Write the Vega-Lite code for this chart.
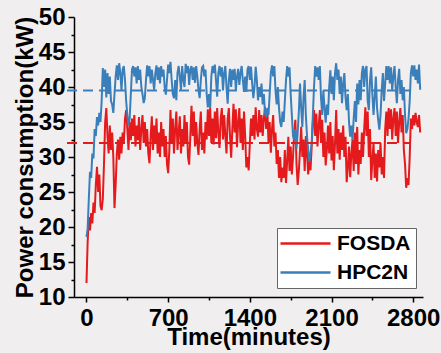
{
"$schema":"https://vega.github.io/schema/vega-lite/v6.json",
"autosize":{"type":"none"},
"width":349,"height":280,
"padding":{"left":74,"top":17,"right":18,"bottom":56},
"background":"#f0eeef",
"config":{"view":{"stroke":null},"font":"Liberation Sans"},
"datasets":{
"F":[{"t":0,"v":12},{"t":10,"v":17.9},{"t":20,"v":21.4},{"t":30,"v":19.5},{"t":40,"v":22},{"t":50,"v":20.5},{"t":60,"v":23.5},{"t":70,"v":22},{"t":80,"v":26},{"t":90,"v":28.6},
{"t":100,"v":25},{"t":110,"v":27.5},{"t":120,"v":23},{"t":130,"v":22.4},{"t":140,"v":24},{"t":150,"v":29},{"t":160,"v":35},{"t":170,"v":37},{"t":180,"v":33},{"t":190,"v":30.5},
{"t":200,"v":34.5},{"t":210,"v":31},{"t":220,"v":33.5},{"t":230,"v":30},{"t":240,"v":22.7},{"t":250,"v":26},{"t":260,"v":30.5},{"t":270,"v":32.5},{"t":280,"v":29.6},{"t":290,"v":32.9},
{"t":300,"v":30.5},{"t":310,"v":33.5},{"t":320,"v":32},{"t":330,"v":35.5},{"t":340,"v":36.7},{"t":350,"v":34},{"t":360,"v":31},{"t":370,"v":35},{"t":380,"v":32.4},{"t":390,"v":35.5},
{"t":400,"v":33},{"t":410,"v":36},{"t":420,"v":31.5},{"t":430,"v":34.5},{"t":440,"v":32.4},{"t":450,"v":35.7},{"t":460,"v":31},{"t":470,"v":34},{"t":480,"v":36},{"t":490,"v":32},
{"t":500,"v":35},{"t":510,"v":31.5},{"t":520,"v":34},{"t":530,"v":30.5},{"t":540,"v":29.1},{"t":550,"v":33},{"t":560,"v":35.8},{"t":570,"v":31},{"t":580,"v":34.5},{"t":590,"v":32},
{"t":600,"v":35.5},{"t":610,"v":30.5},{"t":620,"v":33.5},{"t":630,"v":30},{"t":640,"v":35},{"t":650,"v":31.5},{"t":660,"v":34},{"t":670,"v":30},{"t":680,"v":33},{"t":690,"v":29},
{"t":700,"v":27.7},{"t":710,"v":31},{"t":720,"v":36.7},{"t":730,"v":32},{"t":740,"v":35.5},{"t":750,"v":30.5},{"t":760,"v":34},{"t":770,"v":36.5},{"t":780,"v":31},{"t":790,"v":33.5},
{"t":800,"v":35.8},{"t":810,"v":30.5},{"t":820,"v":34},{"t":830,"v":31.5},{"t":840,"v":36},{"t":850,"v":32},{"t":860,"v":35},{"t":870,"v":30},{"t":880,"v":28.9},{"t":890,"v":33},
{"t":900,"v":37.3},{"t":910,"v":33},{"t":920,"v":36.5},{"t":930,"v":31.5},{"t":940,"v":35},{"t":950,"v":32},{"t":960,"v":30.3},{"t":970,"v":34},{"t":980,"v":36.5},{"t":990,"v":31},
{"t":1000,"v":33.5},{"t":1010,"v":30.5},{"t":1020,"v":35},{"t":1030,"v":32.5},{"t":1040,"v":36.8},{"t":1050,"v":33},{"t":1060,"v":37},{"t":1070,"v":32},{"t":1080,"v":35.5},{"t":1090,"v":31.8},
{"t":1100,"v":36.5},{"t":1110,"v":32.7},{"t":1120,"v":37},{"t":1130,"v":33.5},{"t":1140,"v":31.3},{"t":1150,"v":35.5},{"t":1160,"v":37},{"t":1170,"v":32.5},{"t":1180,"v":36},{"t":1190,"v":33},
{"t":1200,"v":30.5},{"t":1210,"v":35.5},{"t":1220,"v":37},{"t":1230,"v":33},{"t":1240,"v":29.9},{"t":1250,"v":34},{"t":1260,"v":37.6},{"t":1270,"v":33.5},{"t":1280,"v":36.8},{"t":1290,"v":31.4},
{"t":1300,"v":35},{"t":1310,"v":37},{"t":1320,"v":32},{"t":1330,"v":35.5},{"t":1340,"v":31},{"t":1350,"v":36.5},{"t":1360,"v":33},{"t":1370,"v":28.5},{"t":1380,"v":30},{"t":1390,"v":28.1},
{"t":1400,"v":32},{"t":1410,"v":35.5},{"t":1420,"v":33},{"t":1430,"v":36},{"t":1440,"v":32.5},{"t":1450,"v":37.1},{"t":1460,"v":34},{"t":1470,"v":32.9},{"t":1480,"v":36.7},{"t":1490,"v":33.5},
{"t":1500,"v":36},{"t":1510,"v":33},{"t":1520,"v":35.5},{"t":1530,"v":37.1},{"t":1540,"v":34},{"t":1550,"v":36.7},{"t":1560,"v":32},{"t":1570,"v":35},{"t":1580,"v":30.6},{"t":1590,"v":34},
{"t":1600,"v":36},{"t":1610,"v":31.5},{"t":1620,"v":33.5},{"t":1630,"v":29},{"t":1640,"v":31},{"t":1650,"v":27},{"t":1660,"v":30},{"t":1670,"v":26.4},{"t":1680,"v":28.5},{"t":1690,"v":27},
{"t":1700,"v":31},{"t":1710,"v":26.3},{"t":1720,"v":29.5},{"t":1730,"v":32.9},{"t":1740,"v":28},{"t":1750,"v":31.5},{"t":1760,"v":27.5},{"t":1770,"v":30},{"t":1780,"v":33.5},{"t":1790,"v":35.3},
{"t":1800,"v":29},{"t":1810,"v":26},{"t":1820,"v":28},{"t":1830,"v":31},{"t":1840,"v":34.3},{"t":1850,"v":30},{"t":1860,"v":32.5},{"t":1870,"v":28},{"t":1880,"v":33},{"t":1890,"v":30.5},
{"t":1900,"v":27.5},{"t":1910,"v":30},{"t":1920,"v":28.1},{"t":1930,"v":31.5},{"t":1940,"v":35},{"t":1950,"v":36.7},{"t":1960,"v":33},{"t":1970,"v":36.2},{"t":1980,"v":31.5},{"t":1990,"v":34.5},
{"t":2000,"v":36.7},{"t":2010,"v":32},{"t":2020,"v":35.3},{"t":2030,"v":30},{"t":2040,"v":33.5},{"t":2050,"v":28.8},{"t":2060,"v":31},{"t":2070,"v":34.5},{"t":2080,"v":30.5},{"t":2090,"v":35},
{"t":2100,"v":29.5},{"t":2110,"v":33},{"t":2120,"v":28.1},{"t":2130,"v":32},{"t":2140,"v":36.7},{"t":2150,"v":30.5},{"t":2160,"v":34},{"t":2170,"v":29.6},{"t":2180,"v":33.5},{"t":2190,"v":31},
{"t":2200,"v":34.5},{"t":2210,"v":30},{"t":2220,"v":32.9},{"t":2230,"v":26.4},{"t":2240,"v":28.5},{"t":2250,"v":31.5},{"t":2260,"v":27.1},{"t":2270,"v":30.5},{"t":2280,"v":32.5},{"t":2290,"v":28},
{"t":2300,"v":33.5},{"t":2310,"v":29},{"t":2320,"v":34.3},{"t":2330,"v":27.5},{"t":2340,"v":31},{"t":2350,"v":29},{"t":2360,"v":33.5},{"t":2370,"v":30},{"t":2380,"v":34},{"t":2390,"v":37.1},
{"t":2400,"v":33},{"t":2410,"v":36.5},{"t":2420,"v":30},{"t":2430,"v":34},{"t":2440,"v":26.7},{"t":2450,"v":29.5},{"t":2460,"v":32},{"t":2470,"v":27},{"t":2480,"v":30.5},{"t":2490,"v":26.5},
{"t":2500,"v":31},{"t":2510,"v":28.5},{"t":2520,"v":32},{"t":2530,"v":27.5},{"t":2540,"v":30},{"t":2550,"v":27},{"t":2560,"v":34},{"t":2570,"v":36.5},{"t":2580,"v":33},{"t":2590,"v":37},
{"t":2600,"v":34},{"t":2610,"v":36.8},{"t":2620,"v":32.5},{"t":2630,"v":35.5},{"t":2640,"v":37},{"t":2650,"v":33},{"t":2660,"v":36.5},{"t":2670,"v":32},{"t":2680,"v":35},{"t":2690,"v":37},
{"t":2700,"v":33.5},{"t":2710,"v":36},{"t":2720,"v":31},{"t":2730,"v":29},{"t":2740,"v":25.6},{"t":2750,"v":27},{"t":2760,"v":26},{"t":2770,"v":30},{"t":2780,"v":35.5},{"t":2790,"v":34},
{"t":2800,"v":36},{"t":2810,"v":34.5},{"t":2820,"v":36.3},{"t":2830,"v":35},{"t":2840,"v":34.3},{"t":2850,"v":36},{"t":2860,"v":33.5}],
"H":[{"t":0,"v":18.6},{"t":10,"v":19.8},{"t":20,"v":24},{"t":30,"v":27.9},{"t":40,"v":27},{"t":50,"v":30.5},{"t":60,"v":29.8},{"t":70,"v":34},{"t":80,"v":33},{"t":90,"v":35.7},
{"t":100,"v":34.5},{"t":110,"v":36.3},{"t":120,"v":35},{"t":130,"v":38},{"t":140,"v":42.7},{"t":150,"v":40},{"t":160,"v":42.5},{"t":170,"v":38.5},{"t":180,"v":42},{"t":190,"v":39},
{"t":200,"v":41.5},{"t":210,"v":38},{"t":220,"v":37.5},{"t":230,"v":36.3},{"t":240,"v":39},{"t":250,"v":41.5},{"t":260,"v":43.1},{"t":270,"v":41},{"t":280,"v":43.4},{"t":290,"v":42},
{"t":300,"v":39.5},{"t":310,"v":42.5},{"t":320,"v":43},{"t":330,"v":41},{"t":340,"v":38},{"t":350,"v":36},{"t":360,"v":34.5},{"t":370,"v":35.5},{"t":380,"v":39},{"t":390,"v":42.5},
{"t":400,"v":43},{"t":410,"v":41.5},{"t":420,"v":42.8},{"t":430,"v":40.5},{"t":440,"v":43},{"t":450,"v":41},{"t":460,"v":42.5},{"t":470,"v":40},{"t":480,"v":39},{"t":490,"v":37.7},
{"t":500,"v":38.4},{"t":510,"v":41},{"t":520,"v":43.1},{"t":530,"v":41.5},{"t":540,"v":43},{"t":550,"v":40.5},{"t":560,"v":42.5},{"t":570,"v":41},{"t":580,"v":39.6},{"t":590,"v":42},
{"t":600,"v":43.1},{"t":610,"v":41},{"t":620,"v":42.8},{"t":630,"v":40.5},{"t":640,"v":43},{"t":650,"v":41.5},{"t":660,"v":42.5},{"t":670,"v":40},{"t":680,"v":38.9},{"t":690,"v":41},
{"t":700,"v":43.2},{"t":710,"v":42},{"t":720,"v":43.6},{"t":730,"v":41},{"t":740,"v":39},{"t":750,"v":38.4},{"t":760,"v":41},{"t":770,"v":38.1},{"t":780,"v":42},{"t":790,"v":43},
{"t":800,"v":41.5},{"t":810,"v":39.6},{"t":820,"v":43},{"t":830,"v":41},{"t":840,"v":40},{"t":850,"v":43.3},{"t":860,"v":42},{"t":870,"v":43},{"t":880,"v":40.3},{"t":890,"v":42.5},
{"t":900,"v":43},{"t":910,"v":41},{"t":920,"v":42.8},{"t":930,"v":40.6},{"t":940,"v":43},{"t":950,"v":41.5},{"t":960,"v":39.5},{"t":970,"v":38.4},{"t":980,"v":41},{"t":990,"v":42.8},
{"t":1000,"v":43},{"t":1010,"v":41.5},{"t":1020,"v":42.5},{"t":1030,"v":39},{"t":1040,"v":37.1},{"t":1050,"v":39},{"t":1060,"v":37},{"t":1070,"v":41.5},{"t":1080,"v":43},{"t":1090,"v":42},
{"t":1100,"v":43.2},{"t":1110,"v":41},{"t":1120,"v":38.6},{"t":1130,"v":42},{"t":1140,"v":43},{"t":1150,"v":41.5},{"t":1160,"v":42.8},{"t":1170,"v":39.5},{"t":1180,"v":42},{"t":1190,"v":43},
{"t":1200,"v":40},{"t":1210,"v":37.6},{"t":1220,"v":41},{"t":1230,"v":42.6},{"t":1240,"v":40},{"t":1250,"v":42.5},{"t":1260,"v":41},{"t":1270,"v":42.6},{"t":1280,"v":39.5},{"t":1290,"v":41.5},
{"t":1300,"v":42.6},{"t":1310,"v":40.3},{"t":1320,"v":42},{"t":1330,"v":43},{"t":1340,"v":41},{"t":1350,"v":39.3},{"t":1360,"v":41.5},{"t":1370,"v":39.3},{"t":1380,"v":42.5},{"t":1390,"v":43},
{"t":1400,"v":41},{"t":1410,"v":42.9},{"t":1420,"v":40.5},{"t":1430,"v":38.4},{"t":1440,"v":40},{"t":1450,"v":42.9},{"t":1460,"v":41},{"t":1470,"v":38.1},{"t":1480,"v":40},{"t":1490,"v":38.6},
{"t":1500,"v":40.5},{"t":1510,"v":37.5},{"t":1520,"v":39},{"t":1530,"v":36.3},{"t":1540,"v":35.7},{"t":1550,"v":37},{"t":1560,"v":36},{"t":1570,"v":39},{"t":1580,"v":42},{"t":1590,"v":43.1},
{"t":1600,"v":41.5},{"t":1610,"v":43},{"t":1620,"v":39.5},{"t":1630,"v":37.5},{"t":1640,"v":40},{"t":1650,"v":37},{"t":1660,"v":35},{"t":1670,"v":34.3},{"t":1680,"v":36.5},{"t":1690,"v":35},
{"t":1700,"v":38},{"t":1710,"v":41},{"t":1720,"v":43},{"t":1730,"v":41.5},{"t":1740,"v":42.8},{"t":1750,"v":39},{"t":1760,"v":36},{"t":1770,"v":33},{"t":1780,"v":32.4},{"t":1790,"v":34},
{"t":1800,"v":31.2},{"t":1810,"v":33.5},{"t":1820,"v":36.5},{"t":1830,"v":40.5},{"t":1840,"v":37},{"t":1850,"v":34.3},{"t":1860,"v":38.5},{"t":1870,"v":41},{"t":1880,"v":36},{"t":1890,"v":33},
{"t":1900,"v":31},{"t":1910,"v":29.3},{"t":1920,"v":30.5},{"t":1930,"v":32},{"t":1940,"v":36},{"t":1950,"v":40},{"t":1960,"v":43},{"t":1970,"v":41.5},{"t":1980,"v":42.8},{"t":1990,"v":41},
{"t":2000,"v":43},{"t":2010,"v":38.5},{"t":2020,"v":36},{"t":2030,"v":39.5},{"t":2040,"v":37},{"t":2050,"v":34.9},{"t":2060,"v":37.5},{"t":2070,"v":36},{"t":2080,"v":40},{"t":2090,"v":42.4},
{"t":2100,"v":39},{"t":2110,"v":41.5},{"t":2120,"v":38.1},{"t":2130,"v":42},{"t":2140,"v":43.4},{"t":2150,"v":41},{"t":2160,"v":42.5},{"t":2170,"v":39},{"t":2180,"v":41.5},{"t":2190,"v":37.7},
{"t":2200,"v":40.5},{"t":2210,"v":42},{"t":2220,"v":38.5},{"t":2230,"v":36.7},{"t":2240,"v":39},{"t":2250,"v":35},{"t":2260,"v":32.9},{"t":2270,"v":34.5},{"t":2280,"v":32.4},{"t":2290,"v":35.5},
{"t":2300,"v":38},{"t":2310,"v":35},{"t":2320,"v":40.5},{"t":2330,"v":37.5},{"t":2340,"v":41},{"t":2350,"v":38.1},{"t":2360,"v":42},{"t":2370,"v":43},{"t":2380,"v":40},{"t":2390,"v":42.5},
{"t":2400,"v":43},{"t":2410,"v":38},{"t":2420,"v":36.7},{"t":2430,"v":41},{"t":2440,"v":42.8},{"t":2450,"v":39},{"t":2460,"v":36},{"t":2470,"v":38.5},{"t":2480,"v":41.5},{"t":2490,"v":37},
{"t":2500,"v":35.3},{"t":2510,"v":33.9},{"t":2520,"v":36},{"t":2530,"v":39.5},{"t":2540,"v":42},{"t":2550,"v":38},{"t":2560,"v":40.5},{"t":2570,"v":43},{"t":2580,"v":41},{"t":2590,"v":43},
{"t":2600,"v":40.5},{"t":2610,"v":42.8},{"t":2620,"v":39.5},{"t":2630,"v":41.5},{"t":2640,"v":43},{"t":2650,"v":40},{"t":2660,"v":37.7},{"t":2670,"v":41},{"t":2680,"v":42.6},{"t":2690,"v":39},
{"t":2700,"v":41},{"t":2710,"v":38.1},{"t":2720,"v":40},{"t":2730,"v":36},{"t":2740,"v":33.4},{"t":2750,"v":34},{"t":2760,"v":35.5},{"t":2770,"v":38},{"t":2780,"v":42},{"t":2790,"v":43.1},
{"t":2800,"v":41.5},{"t":2810,"v":43.1},{"t":2820,"v":41},{"t":2830,"v":42.5},{"t":2840,"v":40.5},{"t":2850,"v":43.2},{"t":2860,"v":39.6}],
"M":[{"s":"HPC2N","m":39.5,"a":-167,"b":2773},{"s":"FOSDA","m":32,"a":-167,"b":2773}]
},
"resolve":{"axis":{"x":"independent","y":"independent"}},
"layer":[
{"data":{"name":"F"},"mark":{"type":"line","strokeWidth":2,"clip":false},
"encoding":{
"x":{"field":"t","type":"quantitative","scale":{"domain":[-107,2884],"nice":false,"zero":false},
"axis":{"orient":"bottom","values":[0,700,1400,2100,2800],"format":"d","grid":false,"title":"Time(minutes)","tickSize":5,"tickWidth":1.5,"tickColor":"black","domainColor":"black","domainWidth":1.5,"labelFont":"Liberation Sans","labelFontWeight":"bold","labelFontSize":24,"labelColor":"black","labelPadding":4,"labelFlush":false,"labelOverlap":false,"titleFont":"Liberation Sans","titleFontWeight":"bold","titleFontSize":24,"titleColor":"black","titlePadding":-5}},
"y":{"field":"v","type":"quantitative","scale":{"domain":[10,50],"nice":false,"zero":false},
"axis":{"orient":"left","values":[10,15,20,25,30,35,40,45,50],"grid":false,"title":"Power consumption(kW)","tickSize":6,"tickWidth":1.5,"tickColor":"black","domainColor":"black","domainWidth":1.5,"labelFont":"Liberation Sans","labelFontWeight":"bold","labelFontSize":24,"labelColor":"black","labelPadding":3,"labelFlush":false,"labelOverlap":false,"titleFont":"Liberation Sans","titleFontWeight":"bold","titleFontSize":24,"titleColor":"black","titlePadding":1}},
"color":{"datum":"FOSDA","type":"nominal","scale":{"domain":["FOSDA","HPC2N"],"range":["#e41a1c","#3a7fba"]},
"legend":{"title":null,"orient":"none","legendX":203,"legendY":211,"fillColor":"white","strokeColor":"#666666","padding":5,"rowPadding":7,"symbolType":"M-5,0H5","symbolSize":100,"symbolOffset":13,"symbolStrokeWidth":2.5,"labelOffset":21,"labelFont":"Liberation Sans","labelFontWeight":"bold","labelFontSize":21,"labelColor":"black"}}}},
{"data":{"name":"H"},"mark":{"type":"line","strokeWidth":2,"clip":false},
"encoding":{
"x":{"field":"t","type":"quantitative","axis":null},
"y":{"field":"v","type":"quantitative","axis":null},
"color":{"datum":"HPC2N","type":"nominal"}}},
{"data":{"name":"M"},"mark":{"type":"rule","strokeWidth":2,"strokeDash":[10,6],"clip":false},
"encoding":{
"x":{"field":"a","type":"quantitative","axis":{"orient":"bottom","values":[350,1050,1750,2450],"grid":false,"labels":false,"domain":false,"title":null,"tickSize":3,"tickWidth":1.5,"tickColor":"black"}},
"x2":{"field":"b"},
"y":{"field":"m","type":"quantitative","axis":{"orient":"left","values":[12.5,17.5,22.5,27.5,32.5,37.5,42.5,47.5],"grid":false,"labels":false,"domain":false,"title":null,"tickSize":3,"tickWidth":1.5,"tickColor":"black"}},
"color":{"field":"s","type":"nominal","legend":null}}}
]
}
